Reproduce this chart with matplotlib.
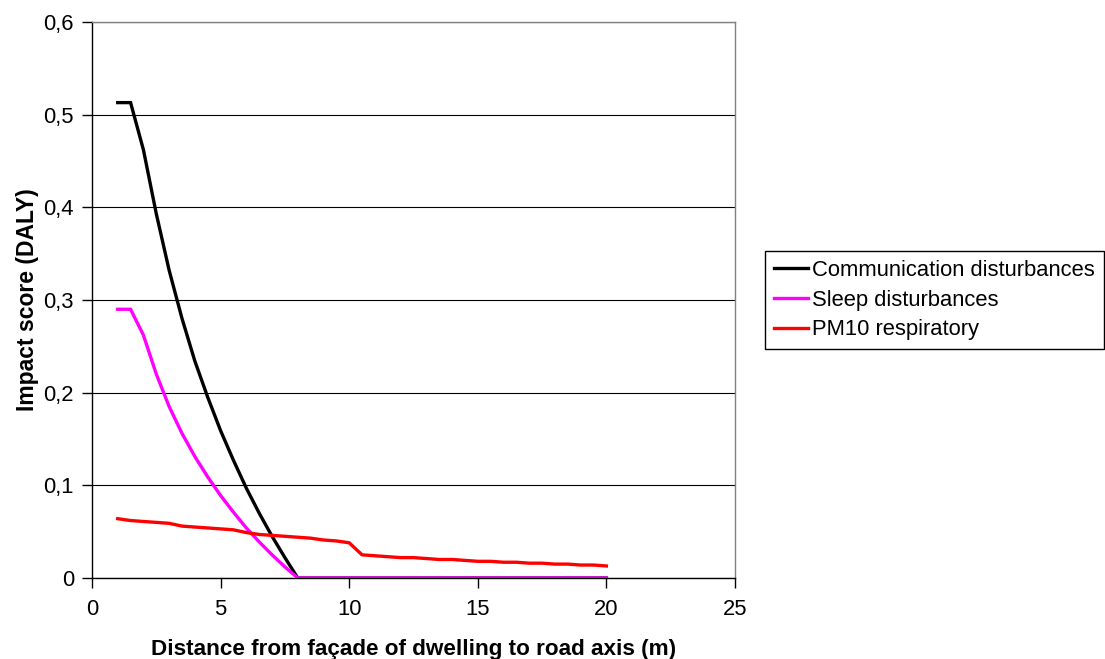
import matplotlib
matplotlib.use("Agg")
import matplotlib.pyplot as plt
from matplotlib.ticker import FuncFormatter, MultipleLocator

plt.rcParams['font.family'] = ['Liberation Sans', 'DejaVu Sans']

distance = [1, 1.5, 2, 2.5, 3, 3.5, 4, 4.5, 5, 5.5, 6, 6.5, 7, 7.5, 8, 8.5, 9, 9.5, 10,
            10.5, 11, 11.5, 12, 12.5, 13, 13.5, 14, 14.5, 15, 15.5, 16, 16.5, 17, 17.5,
            18, 18.5, 19, 19.5, 20]

communication = [0.513, 0.513, 0.462, 0.393, 0.332, 0.280, 0.234, 0.195, 0.159, 0.127,
                 0.097, 0.070, 0.045, 0.022, 0.0, 0.0, 0.0, 0.0, 0.0,
                 0.0, 0.0, 0.0, 0.0, 0.0, 0.0, 0.0, 0.0, 0.0, 0.0, 0.0, 0.0, 0.0, 0.0, 0.0,
                 0.0, 0.0, 0.0, 0.0, 0.0]

sleep = [0.290, 0.290, 0.262, 0.220, 0.185, 0.156, 0.131, 0.109, 0.089, 0.071,
         0.054, 0.039, 0.025, 0.012, 0.0, 0.0, 0.0, 0.0, 0.0,
         0.0, 0.0, 0.0, 0.0, 0.0, 0.0, 0.0, 0.0, 0.0, 0.0, 0.0, 0.0, 0.0, 0.0, 0.0,
         0.0, 0.0, 0.0, 0.0, 0.0]

pm10 = [0.064, 0.062, 0.061, 0.060, 0.059, 0.056, 0.055, 0.054, 0.053, 0.052,
        0.049, 0.047, 0.046, 0.045, 0.044, 0.043, 0.041, 0.040, 0.038,
        0.025, 0.024, 0.023, 0.022, 0.022, 0.021, 0.020, 0.020, 0.019, 0.018, 0.018,
        0.017, 0.017, 0.016, 0.016, 0.015, 0.015, 0.014, 0.014, 0.013]

series_names = ["Communication disturbances", "Sleep disturbances", "PM10 respiratory"]
series_colors = ["#000000", "#FF00FF", "#FF0000"]

fig = plt.figure(figsize=(11.05, 6.59), dpi=100)
ax = fig.add_axes([92/1105, 1-578/659, (735-92)/1105, (578-22)/659])

for vals, name, col in zip([communication, sleep, pm10], series_names, series_colors):
    ax.plot(distance, vals, color=col, lw=2.4, label=name, solid_joinstyle='miter')

ax.set_xlim(0, 25)
ax.set_ylim(0, 0.6)
ax.xaxis.set_major_locator(MultipleLocator(5))
ax.yaxis.set_major_locator(MultipleLocator(0.1))
ax.yaxis.set_major_formatter(FuncFormatter(lambda v, p: ("%.1f" % v).replace('.', ',') if abs(v) > 1e-9 else "0"))
ax.xaxis.set_major_formatter(FuncFormatter(lambda v, p: "%d" % v))

ax.grid(axis='y', color='#000000', lw=0.8)
ax.set_axisbelow(True)
for s in ['left', 'bottom']:
    ax.spines[s].set_color('#000000')
    ax.spines[s].set_linewidth(1.0)
for s in ['top', 'right']:
    ax.spines[s].set_color('#808080')
    ax.spines[s].set_linewidth(1.0)

ax.tick_params(axis='both', direction='out', length=7, width=1, color='#000000',
               labelsize=15.8, pad=6)
ax.tick_params(axis='x', pad=8)

ax.set_xlabel("Distance from façade of dwelling to road axis (m)", fontsize=16.2,
              fontweight='bold', labelpad=14)
ax.set_ylabel("Impact score (DALY)", fontsize=16.5, fontweight='bold', labelpad=3)

leg = fig.legend(loc='upper left', bbox_to_anchor=(765/1105, 1-251/659), fontsize=15.8,
                 frameon=True, fancybox=False, edgecolor='#000000', framealpha=1,
                 handlelength=1.55, handletextpad=0.2, borderpad=0.4, labelspacing=0.4,
                 borderaxespad=0)
leg.get_frame().set_linewidth(1.0)

fig.savefig("out.png", dpi=100)
